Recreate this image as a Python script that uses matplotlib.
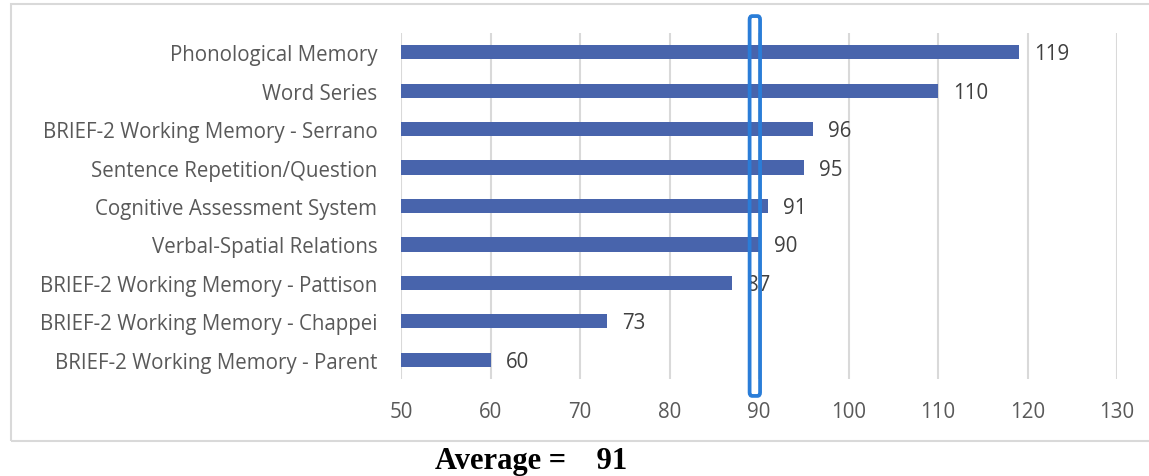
import matplotlib
matplotlib.use("Agg")
import matplotlib.pyplot as plt
from matplotlib.patches import FancyBboxPatch, Rectangle

categories = [
    "Phonological Memory",
    "Word Series",
    "BRIEF-2 Working Memory - Serrano",
    "Sentence Repetition/Question",
    "Cognitive Assessment System",
    "Verbal-Spatial Relations",
    "BRIEF-2 Working Memory - Pattison",
    "BRIEF-2 Working Memory - Chappei",
    "BRIEF-2 Working Memory - Parent",
]
scores = [119, 110, 96, 95, 91, 90, 87, 73, 60]
x_ticks = [50, 60, 70, 80, 90, 100, 110, 120, 130]
average = 91
highlight = 90

W, H = 1149, 477
fig = plt.figure(figsize=(W / 100, H / 100), dpi=100)
fig.patch.set_facecolor("white")

# outer chart frame
fig.patches.append(Rectangle((11 / W, 1 - 442 / H), (W + 10 - 11) / W, (442 - 5) / H,
                             transform=fig.transFigure, fill=False,
                             edgecolor="#D9D9D9", linewidth=1.5))

ax = fig.add_axes([401 / W, 1 - 380 / H, (1117 - 401) / W, 346 / H])
font = "Open Sans"
txt_color = "#595959"
fs = 14.8

y = list(range(len(categories)))[::-1]
ax.barh(y, [s - x_ticks[0] for s in scores], left=x_ticks[0], height=0.37,
        color="#4864AC", zorder=2)
for yi, s in zip(y, scores):
    ax.text(s + 1.7, yi - 0.04, str(s), va="center", ha="left", fontsize=fs,
            color="#404040", family=font, zorder=4)

ax.set_xlim(x_ticks[0], x_ticks[-1])
ax.set_ylim(-0.5, len(categories) - 0.5)
ax.set_xticks(x_ticks)
ax.set_xticklabels([str(t) for t in x_ticks], family=font, fontsize=fs, color=txt_color)
ax.set_yticks(y)
ax.set_yticklabels(categories, family=font, fontsize=fs, color=txt_color)
ax.tick_params(axis="both", length=0)
ax.tick_params(axis="x", pad=16)
ax.tick_params(axis="y", pad=17)
ax.grid(axis="x", color="#D9D9D9", linewidth=1.5, zorder=0)
for sp in ax.spines.values():
    sp.set_visible(False)

# rounded highlight around the 90 mark
ax.add_patch(FancyBboxPatch((highlight - 1.05, -0.94), 1.17, len(categories) + 0.88,
                            boxstyle="round,pad=0,rounding_size=0.3",
                            fill=False, edgecolor="#2A7DD8", linewidth=2.7,
                            clip_on=False, zorder=5, mutation_aspect=0.3))

fig.text(435 / W, 1 - 469 / H, f"Average =    {average}", family="Liberation Serif",
         fontweight="bold", fontsize=22, color="black", va="baseline", ha="left")

fig.savefig("out.png", dpi=100)
